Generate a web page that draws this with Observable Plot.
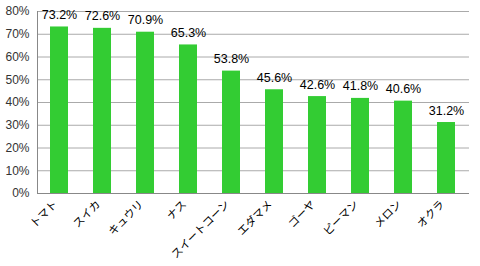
<!DOCTYPE html>
<html><head><meta charset="utf-8">
<script src="https://cdn.jsdelivr.net/npm/d3@7"></script>
<script src="https://cdn.jsdelivr.net/npm/@observablehq/plot@0.6"></script>
<style>
html,body{margin:0;padding:0;background:#fff;}
svg{font-family:"Liberation Sans","Noto Sans CJK JP",sans-serif;}
</style></head>
<body><div id="chart"></div>
<script>
const categories = ["トマト","スイカ","キュウリ","ナス","スイートコーン","エダマメ","ゴーヤ","ピーマン","メロン","オクラ"];
const values = [73.2,72.6,70.9,65.3,53.8,45.6,42.6,41.8,40.6,31.2];
const yTicks = [0,10,20,30,40,50,60,70,80];
const data = categories.map((c,i)=>({cat:c, v:values[i]}));

const chart = Plot.plot({
  width: 480, height: 266,
  marginLeft: 37, marginRight: 11, marginTop: 11, marginBottom: 73,
  x: {domain: categories, paddingInner: 0.58, paddingOuter: 0.29, label: null},
  y: {domain: [0,80], ticks: yTicks, label: null},
  marks: [
    Plot.gridY(yTicks, {stroke: "#aaa", strokeOpacity: 1}),
    Plot.barY(data, {x: "cat", y: "v", fill: "#33cc33"}),
    Plot.ruleY([0], {stroke: "#888", strokeOpacity: 1}),
    Plot.frame({anchor: "left", stroke: "#888"}),
    Plot.axisY(yTicks, {label: null, tickSize: 0, tickPadding: 8, tickFormat: d => d + "%", fontSize: 12, fill: "#333"}),
    Plot.axisX({label: null, tickSize: 0, tickRotate: -45, textAnchor: "end", tickPadding: 9, fontSize: 11, fontFamily: "Noto Sans CJK JP", fill: "#000", dx: -4}),
    Plot.text(data, {x: "cat", y: "v", text: d => d.v.toFixed(1) + "%", dy: -12, fontSize: 12.5, fill: "#000"})
  ]
});
document.getElementById("chart").appendChild(chart);
</script></body></html>
